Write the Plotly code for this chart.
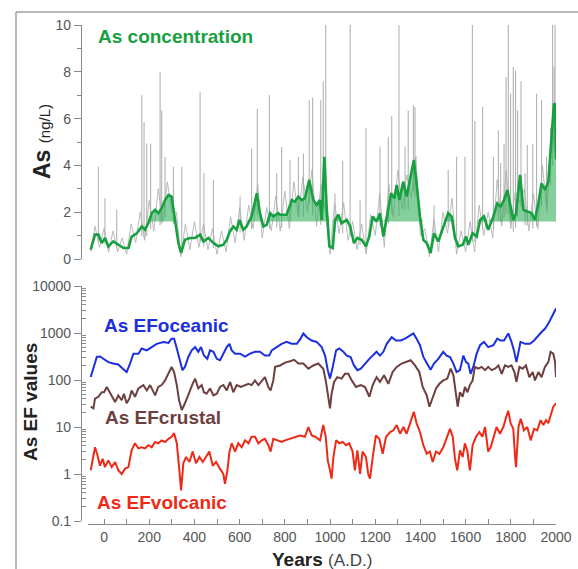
import numpy as np
import plotly.graph_objects as go

# ---------------- data ----------------
# smoothed As concentration (ng/L)
green_years = [-59,-40,-25,-10,4,19,41,63,86,108,122,145,167,181,196,211,226,240,255,270,
               285,299,314,329,341,358,380,403,425,440,462,484,506,528,543,557,572,587,599,616,
               631,653,676,690,705,720,735,749,771,
               779,808,831,845,860,875,889,908,926,941,955,963,975,985,997,1012,1022,1037,1051,1074,
               1089,1106,1121,1140,1159,1174,1189,1206,1221,1236,1251,1270,1285,1295,1307,1324,1339,1357,1371,1383,
               1398,1413,1428,1445,1460,1479,1501,1523,1538,1553,1568,1587,1602,1612,1631,1649,1664,1681,1700,1723,
               1740,1755,1770,1785,1799,1811,1823,1841,1856,1878,1892,1907,1922,1936,1951,1966,1981,1991,1997,2000]
green_vals = [0.40,1.04,1.04,0.68,0.90,0.54,0.75,0.61,0.47,0.47,0.96,1.10,1.39,1.25,1.53,1.96,2.10,1.96,2.17,2.52,
              2.74,2.67,1.67,0.68,0.26,0.82,0.90,0.90,1.04,0.75,0.90,0.68,0.54,0.61,0.82,1.18,1.39,1.25,1.67,1.25,
              1.39,1.82,2.81,1.96,1.39,1.46,1.96,1.82,1.96,
              1.89,1.89,2.52,2.45,2.67,2.52,2.60,3.38,2.52,2.31,2.52,1.67,4.37,2.24,0.54,0.47,1.67,1.89,1.53,1.67,
              1.39,0.68,0.90,0.82,0.54,0.96,1.82,1.60,1.96,0.96,1.82,2.81,2.60,3.16,2.52,3.30,2.67,3.52,4.23,3.23,
              1.82,0.82,0.68,0.26,1.10,0.75,1.39,1.96,1.82,0.90,0.54,0.61,0.96,0.61,1.10,0.96,1.67,1.82,1.25,1.82,
              2.38,2.24,2.52,2.95,2.24,1.67,1.96,3.59,2.10,2.03,1.96,1.67,2.38,3.23,2.95,3.30,5.08,6.64,6.60,4.25]
fill_base = 1.6

# raw As concentration (gray), background record
gray_years = list(range(-60, 2001, 20))
gray_vals = [0.3,1.4,0.5,1.3,0.3,1.2,0.3,0.9,0.2,1.5,
             0.7,2.0,0.8,2.5,1.2,3.0,1.6,3.3,2.0,2.0,
             0.1,1.5,0.4,1.6,0.5,1.5,0.4,1.3,0.2,1.2,
             0.3,1.8,0.7,2.2,0.8,2.3,1.3,3.2,0.9,2.2,
             1.2,2.7,1.2,2.9,1.3,3.3,1.8,3.5,2.0,3.8,
             1.4,3.2,2.0,0.2,2.4,1.1,2.4,0.8,1.6,0.4,
             1.5,0.2,1.9,1.0,2.8,0.5,3.2,1.8,3.8,2.1,
             3.6,2.6,4.4,1.0,1.3,0.1,1.7,0.3,2.0,1.1,
             2.6,0.2,1.2,0.3,1.6,0.3,2.3,1.0,2.0,0.9,
             3.4,1.4,3.8,1.3,2.9,2.4,3.0,1.2,2.8,1.3,
             4.0,2.0,5.8,4.3]
# raw spikes
spike_years = [-25,4,56,167,177,189,206,248,255,270,307,344,425,442,484,602,653,678,732,764,
               786,823,860,882,908,923,959,970,981,1022,1056,1089,1133,1159,1221,1258,1273,1305,1332,1346,
               1369,1376,1460,1523,1560,1597,1630,1641,1675,1723,1745,1755,1770,1779,1789,1799,1811,1821,1830,1845,
               1863,1873,1897,1914,1936,1958,1976,1985,1991,1996]
spike_vals = [3.94,2.6,2.1,7.0,5.86,4.94,4.94,7.99,6.35,4.37,3.94,3.94,7.13,3.66,3.38,2.67,4.72,6.42,7.0,3.66,
              4.79,4.23,4.37,4.51,6.78,6.9,6.78,7.6,10,2.8,4.2,10,2.5,5.6,4.8,5.2,6.1,10,4.8,6.35,
              6.57,6.5,2.3,3.8,4.37,4.37,10,5.9,6.5,4.37,5.5,4.1,4.9,7.77,10,7.06,8.2,8.06,6.35,7.6,
              3.66,4.87,4.9,7.06,6.78,4.37,5.6,10,8.2,10]

# Enrichment factors
blue_years = [-59,-47,-32,-18,-3,19,41,63,83,100,115,130,152,167,189,211,233,263,285,299,
              310,322,336,347,358,373,388,403,417,429,442,457,469,484,499,513,528,543,555,565,
              580,602,624,646,668,690,712,731,742,764,786,808,830,853,867,882,897,919,941,963,
              978,990,1000,1012,1027,1041,1059,1074,1091,1106,1121,1136,1155,1174,1189,1206,1221,1236,1251,1273,
              1292,1313,1332,1354,1369,1383,1398,1413,1431,1445,1460,1479,1501,1516,1531,1546,1560,1575,1590,1602,
              1612,1622,1634,1649,1664,1681,1700,1723,1740,1755,1770,1789,1803,1814,1825,1836,1843,1863,1885,1903,
              1922,1936,1951,1966,1981,1991,2000]
ef_oceanic = [116,190,309,316,282,240,224,214,174,148,224,363,363,468,427,501,589,646,617,759,
              759,468,263,162,190,309,427,501,398,501,331,282,427,398,282,263,363,501,589,427,
              363,363,316,363,398,398,331,331,427,501,589,646,589,589,724,977,813,692,646,501,
              331,162,107,190,427,468,398,331,309,204,162,174,224,282,331,398,331,398,589,813,
              692,692,759,891,977,759,550,309,224,166,224,282,398,331,309,224,148,162,331,240,
              224,135,190,363,550,646,501,550,759,692,692,977,646,427,240,468,646,589,589,692,
              891,1047,1230,1585,2188,2818,3311]

brown_years = [-59,-47,-40,-25,-10,0,12,27,49,63,78,88,100,112,122,137,152,174,189,204,
               226,240,255,270,285,299,310,322,332,344,358,373,392,403,417,432,442,454,469,484,
               499,513,528,543,558,572,587,605,624,639,653,668,683,698,712,727,737,749,757,779,
               801,823,841,860,882,904,926,948,970,981,993,1000,1007,1018,1032,1051,1066,1081,1096,1115,
               1136,1155,1174,1189,1206,1221,1239,1258,1277,1295,1317,1336,1357,1376,1395,1410,1428,1440,1454,1469,
               1484,1501,1519,1534,1546,1558,1565,1575,1587,1597,1608,1619,1631,1641,1656,1671,1686,1700,1715,1730,
               1745,1760,1774,1789,1803,1816,1825,1838,1852,1867,1882,1897,1907,1922,1936,1951,1966,1976,1988,1996,
               2000]
ef_crustal = [27,25,40,44,55,55,71,51,34,47,37,51,32,40,60,44,66,78,60,78,
              47,71,78,98,135,190,148,78,37,23,32,51,83,107,66,78,55,51,66,47,
              51,71,78,60,91,55,78,71,78,83,78,98,78,98,115,71,60,98,190,204,
              234,251,269,224,224,174,204,224,174,98,40,25,51,91,115,107,135,135,98,71,
              78,71,44,78,115,91,126,83,148,190,224,240,263,204,148,71,47,27,40,66,
              83,98,107,174,126,51,27,55,44,71,55,78,98,190,174,190,162,190,162,174,
              204,135,204,190,204,148,91,190,174,204,115,148,98,148,115,190,240,398,363,240,
              115]

red_years = [-59,-50,-40,-29,-18,-6,4,19,34,49,63,78,93,108,122,137,152,167,181,196,
             211,226,240,255,270,285,299,310,322,332,341,351,363,378,392,407,422,437,451,466,
             481,496,513,528,535,546,555,565,580,594,609,624,639,653,668,683,698,712,727,737,
             749,764,786,801,823,845,867,889,904,919,934,956,970,981,990,1000,1007,1015,1027,1041,
             1056,1071,1085,1100,1110,1121,1133,1144,1159,1169,1177,1189,1203,1218,1233,1248,1266,1280,1295,1310,
             1325,1339,1357,1371,1383,1398,1413,1428,1442,1454,1469,1484,1501,1516,1531,1543,1553,1563,1575,1587,
             1597,1608,1619,1631,1646,1661,1674,1686,1700,1711,1723,1737,1752,1767,1779,1789,1799,1811,1819,1823,
             1834,1844,1858,1873,1888,1903,1917,1932,1944,1956,1966,1976,1988,2000]
ef_volcanic = [1.2,1.95,3.7,2.5,1.5,2.1,1.4,1.95,1.4,1.8,1.2,1.0,1.3,1.4,3.2,4.5,3.5,3.7,3.5,4.1,
               3.7,4.8,4.5,5.2,4.8,5.6,6.2,7.4,4.5,1.4,0.45,1.7,2.3,1.8,3.0,1.7,2.3,1.8,2.3,3.0,
               1.5,1.8,1.3,1.0,0.62,1.2,3.0,4.5,3.0,4.5,3.7,5.2,4.5,6.2,6.2,4.5,5.2,5.6,4.1,3.0,
               5.6,5.2,4.8,5.2,5.6,6.2,6.6,6.2,10,6.6,6.2,5.2,11,6.2,1.95,1.2,0.8,2.3,5.2,4.5,
               4.8,4.1,4.5,3.0,1.2,3.2,1.0,3.0,2.3,1.0,0.8,2.3,6.6,5.6,2.7,6.2,7.8,8.5,11,7.2,
               10,7.2,13,21,12,7.8,4.1,2.7,3.0,1.8,3.0,2.7,3.7,5.6,9.1,6.2,2.1,1.2,3.2,2.3,
               4.5,3.0,1.2,4.1,6.2,7.8,6.2,10,3.0,3.7,6.2,10,7.2,10,16,22,12,9.1,2.3,1.4,
               10,15,8.5,10,5.2,9.1,8.5,14,11,14,12,18,27,32]

for a, b in [(green_years, green_vals), (gray_years, gray_vals), (spike_years, spike_vals),
             (blue_years, ef_oceanic), (brown_years, ef_crustal), (red_years, ef_volcanic)]:
    assert len(a) == len(b), (len(a), len(b))

# ---------------- layout helpers ----------------
W, H = 578, 569
def px(x):
    return x / W
def py(y):
    return 1 - y / H

FONT = "Liberation Sans, Arial, sans-serif"
GREEN = "#17a03f"
BLUE = "#1b2fe0"
BROWN = "#6e3f3f"
RED = "#ee2a17"
AXC = "#8a8a8a"
TXT = "#555555"

fig = go.Figure()

# gray raw record
fig.add_trace(go.Scatter(x=gray_years, y=gray_vals, mode="lines",
                         line=dict(color="rgba(175,175,175,0.85)", width=1),
                         xaxis="x2", yaxis="y2", hoverinfo="skip"))
sx, sy = [], []
g_at = np.interp(spike_years, green_years, green_vals)
for yr, h, b in zip(spike_years, spike_vals, g_at):
    sx += [yr, yr, None]
    sy += [b * 0.7, h, None]
fig.add_trace(go.Scatter(x=sx, y=sy, mode="lines",
                         line=dict(color="rgba(170,170,170,0.9)", width=1.1),
                         xaxis="x2", yaxis="y2", hoverinfo="skip"))

# green fill above 1.6
gv = np.array(green_vals)
fig.add_trace(go.Scatter(x=green_years, y=[fill_base] * len(green_years), mode="lines",
                         line=dict(width=0, color="rgba(0,0,0,0)"),
                         xaxis="x2", yaxis="y2", hoverinfo="skip"))
fig.add_trace(go.Scatter(x=green_years, y=np.maximum(gv, fill_base), mode="lines",
                         line=dict(width=0, color="rgba(0,0,0,0)"), fill="tonexty",
                         fillcolor="rgba(50,175,90,0.6)",
                         xaxis="x2", yaxis="y2", hoverinfo="skip"))
fig.add_trace(go.Scatter(x=green_years, y=green_vals, mode="lines",
                         line=dict(color=GREEN, width=2.6),
                         xaxis="x2", yaxis="y2", hoverinfo="skip"))

# EF series
for xs, ys, c in [(blue_years, ef_oceanic, BLUE), (brown_years, ef_crustal, BROWN),
                  (red_years, ef_volcanic, RED)]:
    fig.add_trace(go.Scatter(x=xs, y=ys, mode="lines", line=dict(color=c, width=2),
                             xaxis="x", yaxis="y", hoverinfo="skip"))

xdom = [px(88), px(556)]
xr = [-71, 2000]
minor_log = [m * 10.0 ** k for k in range(-1, 4) for m in range(2, 10)]

fig.update_layout(
    width=W, height=H, margin=dict(l=0, r=0, t=0, b=0, pad=0, autoexpand=False),
    paper_bgcolor="white", plot_bgcolor="white", showlegend=False,
    font=dict(family=FONT, size=14, color=TXT),
    xaxis=dict(domain=xdom, range=xr, anchor="free", position=py(524), automargin=False,
               showline=True, linecolor=AXC, linewidth=1.2,
               ticks="inside", ticklen=5, tickcolor=AXC, tick0=0, dtick=200,
               minor=dict(ticks="inside", ticklen=5, dtick=100, tickcolor=AXC),
               showgrid=False, zeroline=False,
               tickfont=dict(family=FONT, size=14, color=TXT)),
    yaxis=dict(domain=[py(521), py(286)], type="log", range=[-1, 4], automargin=False,
               anchor="free", position=px(81),
               showline=True, linecolor=AXC, linewidth=1.2,
               tickmode="array", tickvals=[0.1, 1, 10, 100, 1000, 10000],
               ticktext=["0.1", "1", "10", "100", "1000", "10000"],
               ticks="outside", ticklen=7, tickcolor=AXC,
               minor=dict(ticks="inside", ticklen=4, tickcolor=AXC,
                          tickmode="array", tickvals=minor_log),
               showgrid=False, zeroline=False,
               tickfont=dict(family=FONT, size=14, color=TXT)),
    xaxis2=dict(domain=xdom, range=xr, anchor="y2", visible=False, automargin=False),
    yaxis2=dict(domain=[py(259), py(25)], range=[0, 10], anchor="free", position=px(81),
                automargin=False,
                showline=True, linecolor=AXC, linewidth=1.2,
                tick0=0, dtick=2, ticks="outside", ticklen=7, tickcolor=AXC,
                minor=dict(ticks="outside", ticklen=4, dtick=1, tickcolor=AXC),
                showgrid=False, zeroline=False,
                tickfont=dict(family=FONT, size=14, color=TXT)),
)

# frame
fig.add_shape(type="line", xref="paper", yref="paper", x0=px(16), x1=1.0, y0=py(12), y1=py(12),
              line=dict(color="#a0a0a0", width=1.5))
fig.add_shape(type="line", xref="paper", yref="paper", x0=px(16), x1=px(16), y0=0, y1=py(12),
              line=dict(color="#a0a0a0", width=1.5))

def ann(text, x, y, color, size=19, xanchor="left", angle=0):
    fig.add_annotation(text=text, x=px(x), y=py(y), xref="paper", yref="paper",
                       showarrow=False, xanchor=xanchor, yanchor="middle", textangle=angle,
                       font=dict(family=FONT, size=size, color=color))

ann("<b>As concentration</b>", 96, 37, GREEN)
ann("<b>As EFoceanic</b>", 102, 325, BLUE)
ann("<b>As EFcrustal</b>", 103, 417, BROWN)
ann("<b>As EFvolcanic</b>", 95, 502, RED)
ann("<b>As EF values</b>", 30, 402, "#222222", size=19, xanchor="center", angle=-90)
ann("<b>As</b> <span style='font-size:15px'>(ng/L)</span>", 42, 142, "#222222", size=23,
    xanchor="center", angle=-90)
ann("<b>Years</b> <span style='font-size:17px;color:#444'>(A.D.)</span>", 322, 559, "#222222",
    size=19, xanchor="center")

fig.write_html("out.html", config={"displayModeBar": False},
               post_script="document.body.style.margin='0';document.body.style.overflow='hidden';")
